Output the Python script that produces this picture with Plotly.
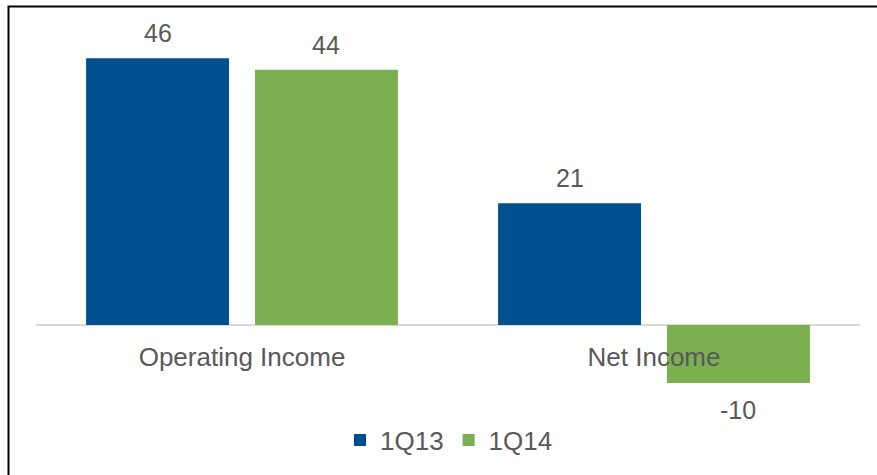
import plotly.graph_objects as go

categories = ["Operating Income", "Net Income"]
series_names = ["1Q13", "1Q14"]
values_1q13 = [46, 21]
values_1q14 = [44, -10]
colors = ["#00508F", "#7AB04F"]

W, H = 877, 475
ML, MR, MT, MB = 36, 17, 20, 75
ymin, ymax = -12.93, 52.59
bargap = 0.18
bargroupgap = 0.154
FONT = "Liberation Sans, Arial, sans-serif"
TXT = "#595959"
FS = 26

fig = go.Figure()
for name, vals, col in zip(series_names, [values_1q13, values_1q14], colors):
    fig.add_trace(go.Bar(x=categories, y=vals, name=name, marker_color=col,
                         marker_line_width=0))

# data labels (annotations so the gap to the bar matches)
n = 2
slot = (1 - bargap) / n
annotations = []
for i, vals in enumerate([values_1q13, values_1q14]):
    off = -(1 - bargap) / 2 + slot * (i + 0.5)
    for j, v in enumerate(vals):
        annotations.append(dict(
            x=j + off, y=v, xref="x", yref="y", text=str(v), showarrow=False,
            yanchor="bottom" if v >= 0 else "top",
            yshift=9 if v >= 0 else -11,
            font=dict(family=FONT, size=FS - 1, color=TXT)))

pos = (0 - ymin) / (ymax - ymin)
plot_w = W - ML - MR
plot_h = H - MT - MB

def px2x(px):
    return (px - ML) / plot_w

def py2y(py):
    return (H - MB - py) / plot_h

fig.update_layout(
    width=W, height=H,
    margin=dict(l=ML, r=MR, t=MT, b=MB),
    paper_bgcolor="white", plot_bgcolor="white",
    barmode="group", bargap=bargap, bargroupgap=bargroupgap,
    font=dict(family=FONT, size=FS, color=TXT),
    xaxis=dict(anchor="free", position=pos, showline=False, ticks="",
               ticklabelstandoff=14, showgrid=False,
               tickfont=dict(family=FONT, size=FS, color=TXT)),
    yaxis=dict(range=[ymin, ymax], visible=True, showticklabels=False,
               showgrid=False, zeroline=True, zerolinecolor="#D9D9D9",
               zerolinewidth=2, ticks=""),
    showlegend=True,
    legend=dict(orientation="h", x=px2x(449), xanchor="center",
                y=py2y(440), yanchor="middle",
                font=dict(family=FONT, size=FS, color=TXT),
                itemwidth=30, tracegroupgap=0),
    annotations=annotations,
    shapes=[dict(type="rect", xref="paper", yref="paper",
                 x0=px2x(8.5), x1=px2x(880), y0=py2y(478), y1=py2y(6.5),
                 line=dict(color="black", width=2), fillcolor="rgba(0,0,0,0)")],
)

fig.write_html("out.html")
